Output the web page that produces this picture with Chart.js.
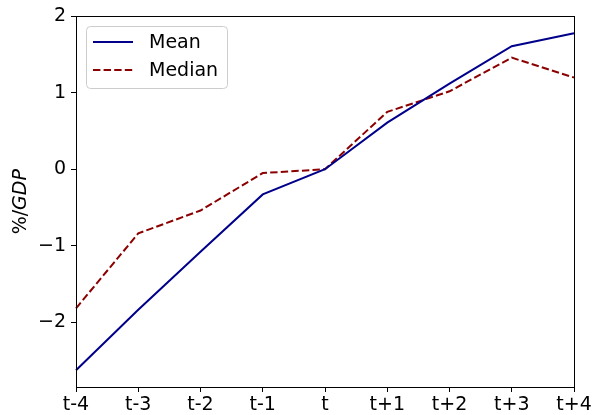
<!DOCTYPE html>
<html>
<head>
<meta charset="utf-8">
<script src="https://cdn.jsdelivr.net/npm/chart.js@4"></script>
<style>
  html, body { margin: 0; padding: 0; background: #fff; }
  #wrap { width: 594px; height: 415px; }
</style>
</head>
<body>
<div id="wrap"><canvas id="myChart" width="594" height="415"></canvas></div>
<script>
// data
const periods = ['t-4', 't-3', 't-2', 't-1', 't', 't+1', 't+2', 't+3', 't+4'];
const meanVals = [-2.63, -1.84, -1.08, -0.33, 0.0, 0.61, 1.12, 1.61, 1.78];
const medianVals = [-1.82, -0.84, -0.54, -0.05, 0.0, 0.75, 1.02, 1.46, 1.20];
const yTicks = [-2, -1, 0, 1, 2];

const FONT = 'DejaVu Sans';
const FS = 19;

// frame round the plot area plus the y title with italic GDP
const framePlugin = {
    id: 'frame',
    afterDraw(chart) {
        let c = chart.ctx, a = chart.chartArea;
        c.save();
        c.strokeStyle = '#000';
        c.lineWidth = 1;
        c.strokeRect(Math.round(a.left) + 0.5, Math.round(a.top) + 0.5,
            Math.round(a.right - a.left), Math.round(a.bottom - a.top));

        // y title "%/GDP"
        c.translate(21, (a.top + a.bottom) / 2);
        c.rotate(-Math.PI / 2);
        c.fillStyle = '#000';
        c.textBaseline = 'middle';
        c.textAlign = 'left';
        let p1 = '%/', p2 = 'GDP';
        c.font = FS + 'px "' + FONT + '"';
        let w1 = c.measureText(p1).width;
        c.font = 'italic ' + FS + 'px "' + FONT + '"';
        let w2 = c.measureText(p2).width;
        let x0 = -(w1 + w2) / 2;
        c.font = FS + 'px "' + FONT + '"';
        c.fillText(p1, x0, 0);
        c.font = 'italic ' + FS + 'px "' + FONT + '"';
        c.fillText(p2, x0 + w1, 0);
        c.restore();
    }
};

// legend drawn inside the upper-left corner like matplotlib
const innerLegend = {
    id: 'innerLegend',
    afterDatasetsDraw(chart) {
        let c = chart.ctx;
        let x = 86.5, y = 26.5, w = 141, h = 62, r = 4;
        c.save();
        c.beginPath();
        c.roundRect(x, y, w, h, r);
        c.fillStyle = 'rgba(255,255,255,0.8)';
        c.fill();
        c.strokeStyle = '#cccccc';
        c.lineWidth = 1;
        c.stroke();
        chart.data.datasets.forEach((ds, i) => {
            let ly = 42 + i * 28;
            c.beginPath();
            c.setLineDash(ds.borderDash || []);
            c.strokeStyle = ds.borderColor;
            c.lineWidth = ds.borderWidth;
            c.moveTo(93, ly);
            c.lineTo(133, ly);
            c.stroke();
            c.setLineDash([]);
            c.fillStyle = '#000';
            c.font = FS + 'px "' + FONT + '"';
            c.textBaseline = 'middle';
            c.fillText(ds.label, 149, ly + 1);
        });
        c.restore();
    }
};

const ctx = document.getElementById('myChart').getContext('2d');
let myChart = new Chart(ctx, {
    type: 'line',
    data: {
        labels: periods,
        datasets: [
            { label: 'Mean', data: meanVals, borderColor: '#00008b', borderWidth: 2, pointRadius: 0, tension: 0, fill: false },
            { label: 'Median', data: medianVals, borderColor: '#8b0000', borderWidth: 2, borderDash: [7.4, 3.2], pointRadius: 0, tension: 0, fill: false }
        ]
    },
    options: {
        responsive: false,
        animation: false,
        layout: { padding: { top: 16, right: 20, left: 0, bottom: 0 } },
        plugins: { legend: { display: false }, tooltip: { enabled: false } },
        scales: {
            x: {
                offset: false,
                grid: { drawOnChartArea: false, drawTicks: true, tickLength: 5, color: '#000' },
                border: { display: false },
                ticks: { color: '#000', font: { family: FONT, size: FS }, padding: 2, maxRotation: 0, autoSkip: false },
                afterFit(axis) { axis.height = 28; }
            },
            y: {
                min: -2.85,
                max: 2,
                grid: { drawOnChartArea: false, drawTicks: true, tickLength: 5, color: '#000' },
                border: { display: false },
                ticks: {
                    color: '#000', font: { family: FONT, size: FS }, padding: 5,
                    callback: v => String(v).replace('-', '\u2212')
                },
                afterBuildTicks(axis) { axis.ticks = yTicks.map(v => ({ value: v })); },
                afterFit(axis) { axis.width = 76; }
            }
        }
    },
    plugins: [framePlugin, innerLegend]
});
</script>
</body>
</html>
